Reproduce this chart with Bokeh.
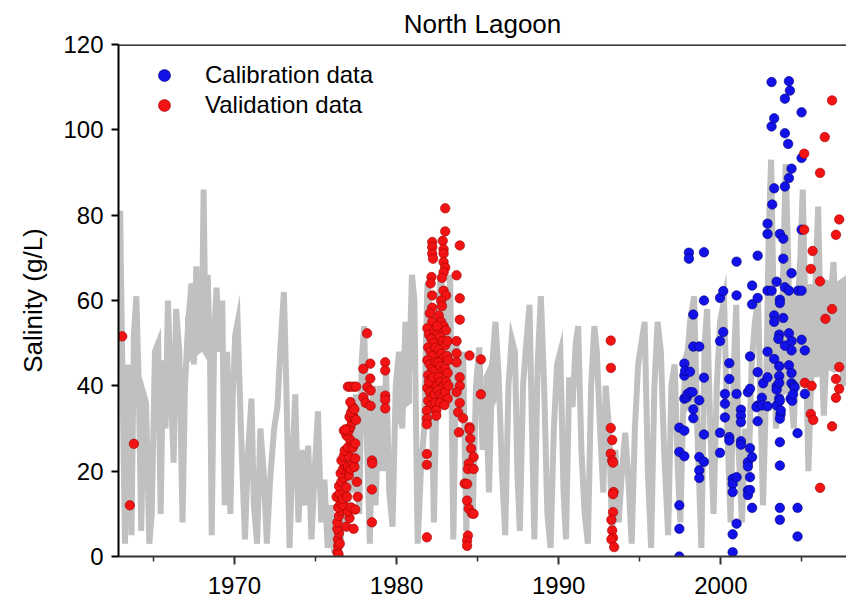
from bokeh.plotting import figure
from bokeh.models import Range1d, FixedTicker, Legend, LegendItem, Span
from bokeh.embed import file_html
from bokeh.resources import INLINE

# ---------------- data ----------------
model_year = [1962.85, 1962.95, 1963.1, 1963.25, 1963.4, 1963.55, 1963.65, 1963.8, 1963.95, 1964.1,
              1964.25, 1964.4, 1964.55, 1964.75, 1964.9, 1965.1, 1965.3, 1965.45, 1965.6, 1965.75,
              1965.9, 1966.05, 1966.25, 1966.4, 1966.6, 1966.8, 1966.95, 1967.15, 1967.35, 1967.5,
              1967.65, 1967.8, 1968.0, 1968.1, 1968.2, 1968.35, 1968.5, 1968.6, 1968.75, 1968.9,
              1969.05, 1969.25, 1969.4, 1969.55, 1969.75, 1969.9, 1970.05, 1970.2, 1970.4, 1970.65,
              1970.85, 1971.05, 1971.2, 1971.4, 1971.6, 1971.8, 1972.0, 1972.2, 1972.45, 1972.65,
              1972.85, 1973.05, 1973.2, 1973.4, 1973.55, 1973.75, 1973.95, 1974.15, 1974.35, 1974.55,
              1974.75, 1974.95, 1975.15, 1975.35, 1975.55, 1975.75, 1975.95, 1976.15, 1976.35, 1976.55,
              1976.75, 1976.95, 1977.1, 1977.3, 1977.5, 1977.7, 1977.85, 1978.0, 1978.15, 1978.35,
              1978.55, 1978.7, 1978.95, 1979.15, 1979.35, 1979.55, 1979.75, 1979.95, 1980.15, 1980.35,
              1980.55, 1980.75, 1980.95, 1981.1, 1981.3, 1981.5, 1981.7, 1981.9, 1982.1, 1982.3,
              1982.5, 1982.7, 1982.9, 1983.1, 1983.3, 1983.5, 1983.7, 1983.9, 1984.1, 1984.3,
              1984.5, 1984.7, 1984.9, 1985.1, 1985.3, 1985.5, 1985.7, 1985.9, 1986.1, 1986.3,
              1986.5, 1986.7, 1986.9, 1987.1, 1987.3, 1987.45, 1987.6, 1987.8, 1988.0, 1988.2,
              1988.35, 1988.5, 1988.7, 1988.9, 1989.1, 1989.3, 1989.5, 1989.7, 1989.9, 1990.1,
              1990.3, 1990.45, 1990.65, 1990.85, 1991.05, 1991.2, 1991.4, 1991.6, 1991.8, 1992.0,
              1992.2, 1992.35, 1992.55, 1992.75, 1992.9, 1993.1, 1993.3, 1993.5, 1993.7, 1993.9,
              1994.1, 1994.3, 1994.5, 1994.7, 1994.9, 1995.1, 1995.3, 1995.5, 1995.7, 1995.9,
              1996.1, 1996.3, 1996.5, 1996.75, 1996.95, 1997.15, 1997.35, 1997.5, 1997.7, 1997.9,
              1998.1, 1998.35, 1998.55, 1998.8, 1999.0, 1999.15, 1999.35, 1999.55, 1999.75, 1999.95,
              2000.2, 2000.4, 2000.6, 2000.8, 2000.95, 2001.1, 2001.3, 2001.5, 2001.7, 2001.9,
              2002.1, 2002.3, 2002.45, 2002.6, 2002.8, 2002.95, 2003.1, 2003.25, 2003.4, 2003.6,
              2003.8, 2004.0, 2004.15, 2004.3, 2004.5, 2004.7, 2004.9, 2005.05, 2005.2, 2005.4,
              2005.6, 2005.8, 2006.0, 2006.15, 2006.35, 2006.55, 2006.75, 2006.95, 2007.15, 2007.35,
              2007.55, 2007.75]
model_salinity = [72, 81, 40, 3, 45, 30, 5, 52, 61, 40,
                  6, 38, 36, 3, 10, 48, 50, 10, 46, 30,
                  60, 42, 22, 58, 48, 8, 40, 55, 64, 45,
                  68, 48, 55, 86, 55, 66, 45, 5, 52, 63,
                  48, 60, 12, 48, 10, 38, 52, 55, 30, 4,
                  25, 37, 12, 3, 30, 20, 3, 18, 30, 35,
                  50, 62, 40, 2, 20, 38, 8, 25, 12, 26,
                  4, 20, 34, 8, 18, 2, 12, 1, 10, 3,
                  22, 8, 30, 15, 38, 10, 46, 54, 30, 3,
                  40, 12, 40, 20, 44, 15, 7, 40, 48, 30,
                  55, 40, 66, 60, 3, 20, 30, 64, 55, 8,
                  45, 66, 60, 40, 66, 4, 50, 35, 48, 6,
                  30, 10, 40, 49, 25, 40, 15, 45, 55, 42,
                  20, 5, 40, 51, 48, 20, 6, 40, 50, 59,
                  30, 4, 45, 61, 40, 10, 2, 30, 45, 48,
                  15, 4, 42, 35, 50, 54, 25, 10, 3, 40,
                  54, 48, 30, 15, 40, 30, 5, 25, 8, 20,
                  29, 18, 3, 30, 45, 50, 55, 20, 2, 40,
                  55, 48, 25, 5, 40, 45, 20, 8, 38, 45,
                  55, 61, 30, 2, 50, 58, 30, 10, 40, 55,
                  60, 30, 8, 45, 59, 25, 8, 30, 18, 45,
                  55, 60, 35, 12, 40, 75, 93, 60, 30, 45,
                  60, 92, 70, 40, 30, 55, 70, 86, 60, 20,
                  45, 60, 82, 55, 33, 50, 60, 69, 45, 60,
                  40, 65]

# stretches where the simulated series fills a solid band (year, low, high)
band_year = [[1966.95, 1967.3, 1967.7, 1968.0, 1968.3, 1968.55],
             [1979.95, 1980.3, 1980.6, 1980.95],
             [1985.35, 1985.7, 1986.0, 1986.35],
             [1997.6, 1997.9, 1998.2, 1998.45],
             [2002.95, 2003.5, 2004.0, 2004.5, 2005.0, 2005.5, 2006.0, 2006.5, 2007.0, 2007.75]]
band_low = [[44, 46, 47, 48, 46, 44],
            [30, 32, 35, 36],
            [32, 30, 35, 38],
            [33, 34, 36, 36],
            [36, 37, 38, 38, 40, 42, 42, 44, 43, 45]]
band_high = [[56, 60, 62, 60, 62, 56],
             [45, 48, 50, 52],
             [42, 45, 50, 48],
             [46, 50, 52, 50],
             [58, 60, 62, 62, 63, 64, 63, 65, 64, 66]]

val_year = [1963.08, 1963.55, 1963.8,
            1976.35, 1976.4, 1976.38, 1976.45, 1976.35, 1976.5, 1976.42,
            1976.35, 1976.45, 1976.6, 1976.4, 1976.55, 1976.74, 1976.3, 1976.5, 1976.68,
            1976.9, 1977.1, 1977.0, 1977.2, 1976.95,
            1976.45, 1976.6, 1976.75, 1976.9, 1977.05, 1976.55,
            1976.7, 1976.85, 1976.6, 1977.0, 1977.15, 1977.3, 1977.4, 1976.75, 1977.05, 1977.45,
            1976.8, 1977.0, 1977.2, 1977.1, 1976.9, 1977.3, 1977.45, 1976.75, 1977.05, 1977.15,
            1977.25, 1977.1, 1977.35, 1977.2, 1977.3, 1977.15, 1977.4,
            1976.85, 1977.5, 1977.55, 1977.6, 1977.45, 1977.35,
            1977.0, 1977.15, 1977.35, 1977.5,
            1978.18, 1977.95, 1978.38, 1978.38, 1978.2, 1978.4, 1977.95, 1978.1, 1978.4,
            1978.48, 1978.5, 1978.48, 1978.48,
            1979.3, 1979.3, 1979.3, 1979.3, 1979.3,
            1981.87,
            1983.0, 1983.0, 1982.85, 1982.2, 1982.2, 1982.2, 1982.25, 1982.9, 1982.9, 1982.9, 1983.0, 1982.9,
            1982.15, 1982.1, 1982.2, 1982.8, 1982.9, 1983.05, 1982.75, 1982.8, 1982.2, 1982.05, 1982.2,
            1981.9, 1982.0, 1982.15, 1982.3, 1981.95, 1982.1, 1982.25, 1981.9, 1982.05, 1982.2,
            1982.35, 1981.95, 1982.1, 1982.3, 1981.9, 1982.05, 1982.2, 1982.35, 1981.95, 1982.15,
            1982.4, 1982.0, 1982.25, 1982.4, 1982.4, 1982.35,
            1982.6, 1982.75, 1982.9, 1983.05, 1982.55, 1982.7, 1982.85, 1983.0, 1983.15, 1982.6,
            1982.75, 1982.9, 1983.1, 1982.55, 1982.7, 1982.85, 1983.0, 1983.15, 1982.6, 1982.75,
            1982.9, 1983.05, 1982.55, 1982.7, 1982.85, 1983.0, 1983.15, 1982.65, 1982.95, 1982.5,
            1983.2, 1983.2,
            1981.87, 1982.45, 1982.45, 1981.87, 1981.87, 1981.87, 1981.87,
            1983.9, 1983.7, 1983.9, 1983.9, 1983.7, 1983.7, 1983.7, 1984.5, 1985.2, 1985.2,
            1983.9, 1983.9, 1983.7, 1983.9, 1983.8, 1984.1, 1984.5,
            1983.85, 1984.5, 1984.55, 1984.6, 1984.75, 1984.45, 1984.4, 1984.75, 1984.2, 1984.35,
            1984.35, 1984.45, 1984.65, 1984.75, 1984.4, 1984.35, 1984.35,
            1993.21, 1993.22, 1993.21, 1993.3, 1993.21, 1993.3, 1993.35, 1993.38, 1993.35,
            1993.35, 1993.25, 1993.3, 1993.35, 1993.25, 1993.42,
            2006.86, 2006.41, 2005.14, 2006.12, 2007.3, 2005.14, 2007.1, 2005.66, 2005.55, 2006.12,
            2006.86, 2006.45, 2007.3, 2007.1, 2005.18, 2005.6, 2007.3, 2007.1, 2005.55, 2005.7,
            2006.86, 2006.12]
val_salinity = [51.6, 12.0, 26.4,
                1.0, 2.5, 4.0, 5.5, 6.5, 3.0, 0.5,
                8.0, 9.5, 10.8, 11.5, 12.5, 12.0, 14.0, 14.8, 13.5,
                7.0, 9.0, 10.5, 11.5, 14.0,
                16.5, 17.5, 18.5, 16.2, 19.0, 19.5,
                20.5, 21.2, 22.5, 21.0, 20.5, 22.0, 21.0, 23.5, 23.5, 23.0,
                24.8, 25.6, 26.8, 27.6, 28.4, 25.5, 26.5, 29.5, 29.5, 30.3,
                31.5, 32.7, 32.7, 33.8, 35.0, 36.2, 34.5,
                29.8, 32.0, 17.5, 14.0, 11.0, 6.5,
                39.8, 39.8, 39.8, 39.8,
                52.3, 44.0, 45.2, 41.7, 39.7, 38.9, 37.3, 36.0, 35.3,
                22.5, 21.8, 15.7, 8.0,
                45.5, 43.6, 37.7, 36.7, 34.7,
                4.5,
                81.6, 76.2, 74.0, 73.7, 72.5, 71.0, 69.8, 72.0, 71.0, 69.0, 67.7, 66.6,
                65.5, 64.0, 61.2, 65.3, 62.3, 61.2, 60.0, 58.7, 58.3, 57.0, 55.0,
                53.5, 52.0, 51.0, 50.0, 49.0, 48.0, 47.0, 46.0, 45.0, 44.0,
                43.5, 42.5, 41.5, 40.5, 39.5, 38.5, 37.5, 38.0, 36.5, 35.5,
                36.0, 41.0, 42.0, 45.5, 49.0, 53.0,
                56.5, 55.0, 54.0, 53.0, 52.5, 51.5, 50.5, 49.5, 50.5, 48.5,
                47.5, 46.5, 47.0, 45.5, 44.5, 43.5, 44.0, 43.0, 42.0, 41.0,
                40.0, 41.0, 39.0, 38.0, 37.5, 38.5, 37.0, 36.0, 35.5, 54.0,
                46.0, 40.0,
                34.2, 34.2, 33.0, 32.3, 31.0, 24.0, 21.5,
                72.9, 65.9, 60.5, 55.5, 50.5, 47.6, 45.5, 47.1, 46.2, 38.0,
                42.0, 40.0, 38.5, 36.0, 33.8, 32.4, 30.3,
                29.1, 29.8, 27.6, 25.3, 23.3, 21.8, 20.5, 20.5, 17.1, 17.0,
                13.1, 11.2, 10.1, 10.0, 4.9, 3.7, 2.5,
                50.6, 44.2, 30.1, 27.3, 24.1, 22.5, 22.0, 15.1, 14.6,
                10.4, 8.6, 6.1, 4.4, 4.0, 2.2,
                106.9, 98.3, 94.4, 89.9, 79.0, 76.6, 75.4, 71.6, 67.4, 64.5,
                58.0, 55.7, 44.4, 41.6, 40.7, 40.0, 39.3, 37.2, 33.4, 32.0,
                30.5, 16.1]

cal_year = [1997.44, 1997.44, 1997.44, 1997.44, 1997.44,
            1997.75, 1997.75, 1997.75, 1997.75, 1997.75, 1997.8,
            1997.9, 1997.95, 1998.03, 1998.03, 1998.1, 1998.1,
            1998.3, 1998.3, 1998.25, 1998.3, 1998.3,
            1998.67, 1998.67, 1998.67, 1998.67, 1998.67,
            1998.96, 1998.96, 1998.96, 1998.96, 1998.96,
            1999.95, 1999.95, 1999.95, 1999.95, 2000.15, 2000.15,
            2000.25, 2000.25, 2000.25, 2000.52, 2000.52, 2000.52, 2000.52,
            2000.73, 2000.73, 2000.73, 2000.73, 2000.73,
            2000.97, 2000.97, 2000.97, 2000.97, 2000.97,
            2001.24, 2001.24, 2001.24, 2001.24, 2001.24,
            2001.67, 2001.67, 2001.67, 2001.67, 2001.67,
            2001.8, 2001.8, 2001.8, 2001.8, 2001.8,
            2001.93, 2001.93, 2001.93, 2001.93,
            2002.27, 2002.27, 2002.27, 2002.27, 2002.2, 2002.27,
            2002.53, 2002.53, 2002.61,
            2002.88, 2002.88, 2002.88, 2002.88, 2002.88, 2002.88,
            2003.13, 2003.13, 2003.13, 2003.17,
            2003.29, 2003.29, 2003.29, 2003.29, 2003.29,
            2003.44, 2003.44, 2003.44, 2003.44,
            2003.6, 2003.55, 2003.6, 2003.6, 2003.6, 2003.6, 2003.64,
            2003.64, 2003.64, 2003.64, 2003.68, 2003.64, 2003.64, 2003.64, 2003.64, 2003.64,
            2003.7, 2003.85, 2003.85, 2003.85,
            2003.95, 2003.95, 2003.95, 2003.95, 2003.95,
            2004.15, 2004.2, 2004.2, 2004.2, 2004.2, 2004.2, 2004.26,
            2004.36, 2004.36, 2004.36, 2004.36, 2004.36, 2004.36, 2004.3, 2004.4,
            2004.5, 2004.55, 2004.45,
            2004.73, 2004.73, 2004.73, 2004.77,
            2004.98, 2004.98, 2004.98, 2004.98, 2004.98,
            2005.18, 2005.18]
cal_salinity = [30.2, 24.5, 12.0, 6.5, 0.0,
                45.2, 42.4, 29.5, 23.5, 37.0, 43.5,
                37.3, 38.1, 71.2, 69.8, 43.3, 38.5,
                56.7, 49.2, 38.5, 34.5, 32.4,
                49.2, 36.6, 23.3, 20.2, 18.4,
                71.3, 60.0, 41.9, 28.6, 22.2,
                60.6, 50.5, 29.0, 24.3, 62.2, 52.6,
                38.1, 35.8, 32.6, 45.3, 41.6, 28.0, 27.2,
                18.2, 17.0, 15.1, 5.2, 1.0,
                69.1, 61.2, 38.1, 18.6, 7.7,
                34.4, 33.0, 31.5, 27.0, 26.2,
                38.5, 22.1, 21.1, 15.5, 14.4,
                46.9, 39.3, 25.4, 18.6, 15.6,
                63.5, 59.1, 23.3, 11.4,
                70.5, 60.6, 43.2, 35.4, 35.0, 31.7,
                37.2, 35.4, 40.6,
                78.0, 75.6, 62.3, 48.0, 42.0, 35.2,
                100.8, 62.3, 111.2, 82.5,
                102.7, 86.3, 56.5, 55.0, 46.3,
                64.4, 39.9, 39.1, 35.4,
                52.0, 51.0, 44.6, 42.3, 40.7, 37.0, 36.5,
                75.6, 60.2, 59.4, 33.3, 32.3, 26.8, 21.3, 11.4, 8.6,
                34.2, 74.5, 69.8, 55.9,
                107.3, 99.2, 86.7, 63.1, 49.4,
                96.7, 111.4, 88.7, 62.3, 52.3, 44.8, 109.2,
                90.9, 66.4, 50.5, 48.3, 43.0, 40.6, 37.0, 36.5,
                40.0, 39.6, 38.0,
                28.9, 11.4, 4.7, 62.3,
                104.1, 93.4, 76.6, 62.3, 50.8,
                48.3, 38.1]

title_text = "North Lagoon"
y_label = "Salinity (g/L)"
x_major = [1970, 1980, 1990, 2000]
x_minor = [1965, 1975, 1985, 1995, 2005]
y_ticks = [0, 20, 40, 60, 80, 100, 120]

FONT = "Liberation Sans"
GRAY = "#c0c0c0"

p = figure(width=846, height=603, output_backend="svg", toolbar_location=None,
           x_range=Range1d(1962.85, 2007.75), y_range=Range1d(0, 120),
           min_border_left=118, min_border_right=0, min_border_top=44, min_border_bottom=47,
           title=title_text)
p.title.align = "center"
p.title.text_font = FONT
p.title.text_font_size = "26px"
p.title.text_font_style = "normal"
p.title.text_color = "black"
p.title.standoff = 12

p.outline_line_color = None
p.xgrid.visible = False
p.ygrid.visible = False
p.background_fill_color = "white"
p.border_fill_color = "white"

for bx, bl, bh in zip(band_year, band_low, band_high):
    p.varea(x=bx, y1=bl, y2=bh, fill_color=GRAY)
p.line(model_year, model_salinity, line_color=GRAY, line_width=6, line_join="miter")

r_cal = p.scatter(cal_year, cal_salinity, size=9.5, fill_color="#1212e8", line_color="#00007a", line_width=0.6)
r_val = p.scatter(val_year, val_salinity, size=9.5, fill_color="#f21414", line_color="#a00000", line_width=0.6)

p.add_layout(Span(location=120, dimension="width", line_color="black", line_width=2.5))

# axes
xa = p.xaxis[0]
xa.ticker = FixedTicker(ticks=x_major, minor_ticks=x_minor)
xa.axis_line_color = "#333333"
xa.axis_line_width = 2
xa.major_tick_line_color = "#333333"
xa.major_tick_line_width = 2
xa.major_tick_out = 8
xa.major_tick_in = 0
xa.minor_tick_line_color = "#333333"
xa.minor_tick_line_width = 1.5
xa.minor_tick_out = 5
xa.minor_tick_in = 0
xa.major_label_text_font = FONT
xa.major_label_text_font_size = "24px"
xa.major_label_text_color = "black"
xa.major_label_standoff = 12

ya = p.yaxis[0]
ya.ticker = FixedTicker(ticks=y_ticks, minor_ticks=[])
ya.axis_line_color = "black"
ya.axis_line_width = 2
ya.major_tick_line_color = "black"
ya.major_tick_line_width = 2
ya.major_tick_out = 7
ya.major_tick_in = 0
ya.minor_tick_line_color = None
ya.major_label_text_font = FONT
ya.major_label_text_font_size = "24px"
ya.major_label_text_color = "black"
ya.major_label_standoff = 8
ya.axis_label = y_label
ya.axis_label_text_font = FONT
ya.axis_label_text_font_size = "26px"
ya.axis_label_text_font_style = "normal"
ya.axis_label_text_color = "black"
ya.axis_label_standoff = 12

legend = Legend(items=[LegendItem(label="Calibration data", renderers=[r_cal]),
                       LegendItem(label="Validation data", renderers=[r_val])],
                location=(31, 436), orientation="vertical",
                border_line_color=None, background_fill_alpha=0,
                padding=0, margin=0, spacing=0,
                glyph_width=30, glyph_height=30, label_height=30,
                label_standoff=26, label_text_font=FONT, label_text_font_size="24px",
                label_text_color="black")
p.add_layout(legend)

open("out.html", "w").write(file_html(p, INLINE))
